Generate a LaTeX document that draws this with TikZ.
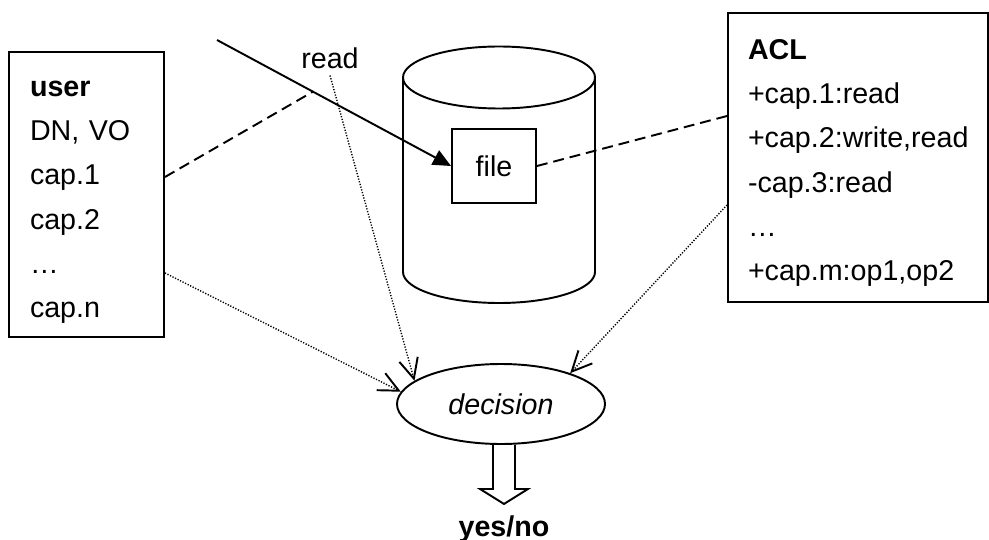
\documentclass[tikz,border=0pt]{standalone}
\usepackage{fontspec}
\setmainfont{Liberation Sans}
\usepackage{tikz}
\usetikzlibrary{arrows.meta,shapes.geometric}
\newcommand{\lblfont}{\fontsize{16.3pt}{25.2pt}\selectfont}
\newcommand{\toprule}{\rule{0pt}{0.62cm}}

\begin{document}
\begin{tikzpicture}[
  list/.style={draw,line width=1.1pt,align=left,font=\lblfont,inner ysep=0pt},
  filebox/.style={draw,line width=1.1pt,minimum width=1.68cm,minimum height=1.48cm,
                  inner sep=0pt,font=\lblfont},
  decide/.style={draw,ellipse,line width=1.1pt,minimum width=4.16cm,minimum height=1.6cm,
                 inner sep=0pt,font=\lblfont\itshape},
  arr/.style={-{Triangle[length=0.36cm,width=0.32cm]},line width=1.1pt},
  link/.style={line width=1.1pt,dash pattern=on 6.2pt off 3.4pt},
  check/.style={-{Straight Barb[length=0.4cm,width=0.38cm,line width=1.1pt]},
                line width=0.8pt,dash pattern=on 0.7pt off 0.9pt}
]
\useasboundingbox (0,0) rectangle (19.78,-10.8);
\node[list,text width=2.26cm,inner xsep=0.42cm,minimum height=5.7cm] (user) at (1.73,-3.89)
  {\toprule\textbf{user}\\DN, VO\\cap.1\\cap.2\\…\\cap.n};
\node[list,text width=4.4cm,inner xsep=0.4cm,minimum height=5.78cm] (acl) at (17.16,-3.15)
  {\toprule\textbf{ACL}\\+cap.1:read\\+cap.2:write,read\\-cap.3:read\\…\\+cap.m:op1,op2};
% storage cylinder
\draw[line width=1.1pt] (9.98,-1.55) ellipse[x radius=1.92,y radius=0.62];
\draw[line width=1.1pt] (8.06,-1.55) -- (8.06,-5.44)
  arc[start angle=180,end angle=360,x radius=1.92,y radius=0.62] -- (11.9,-1.55);
\node[filebox] (file) at (9.88,-3.32) {file};
\node[decide] (decision) at (10.02,-8.08) {decision};
\node[font=\lblfont,anchor=base] (read) at (6.6,-1.38) {read};
\node[font=\lblfont\bfseries,anchor=base] (answer) at (10.08,-10.72) {yes/no};
\coordinate (src) at (4.34,-0.8);
\draw[arr] (src) -- coordinate[pos=0.41] (hit) (file.west);
\draw[link] ([yshift=0.35cm]user.east) -- (hit);
\draw[link] (file.east) -- ([yshift=0.83cm]acl.west);
\draw[check] ([yshift=-1.57cm]user.east) -- (decision.173.6);
\draw[check] (read.south) -- (decision.165.3);
\draw[check] ([yshift=-0.95cm]acl.west) -- (decision.24.4);
% hollow result arrow
\draw[line width=1.1pt] ([xshift=-0.16cm]decision.south) -- ++(0,-0.88) -- ++(-0.26,0)
  -- ++(0.48,-0.3) -- ++(0.48,0.3) -- ++(-0.26,0) -- ++(0,0.88);
\end{tikzpicture}
\end{document}
